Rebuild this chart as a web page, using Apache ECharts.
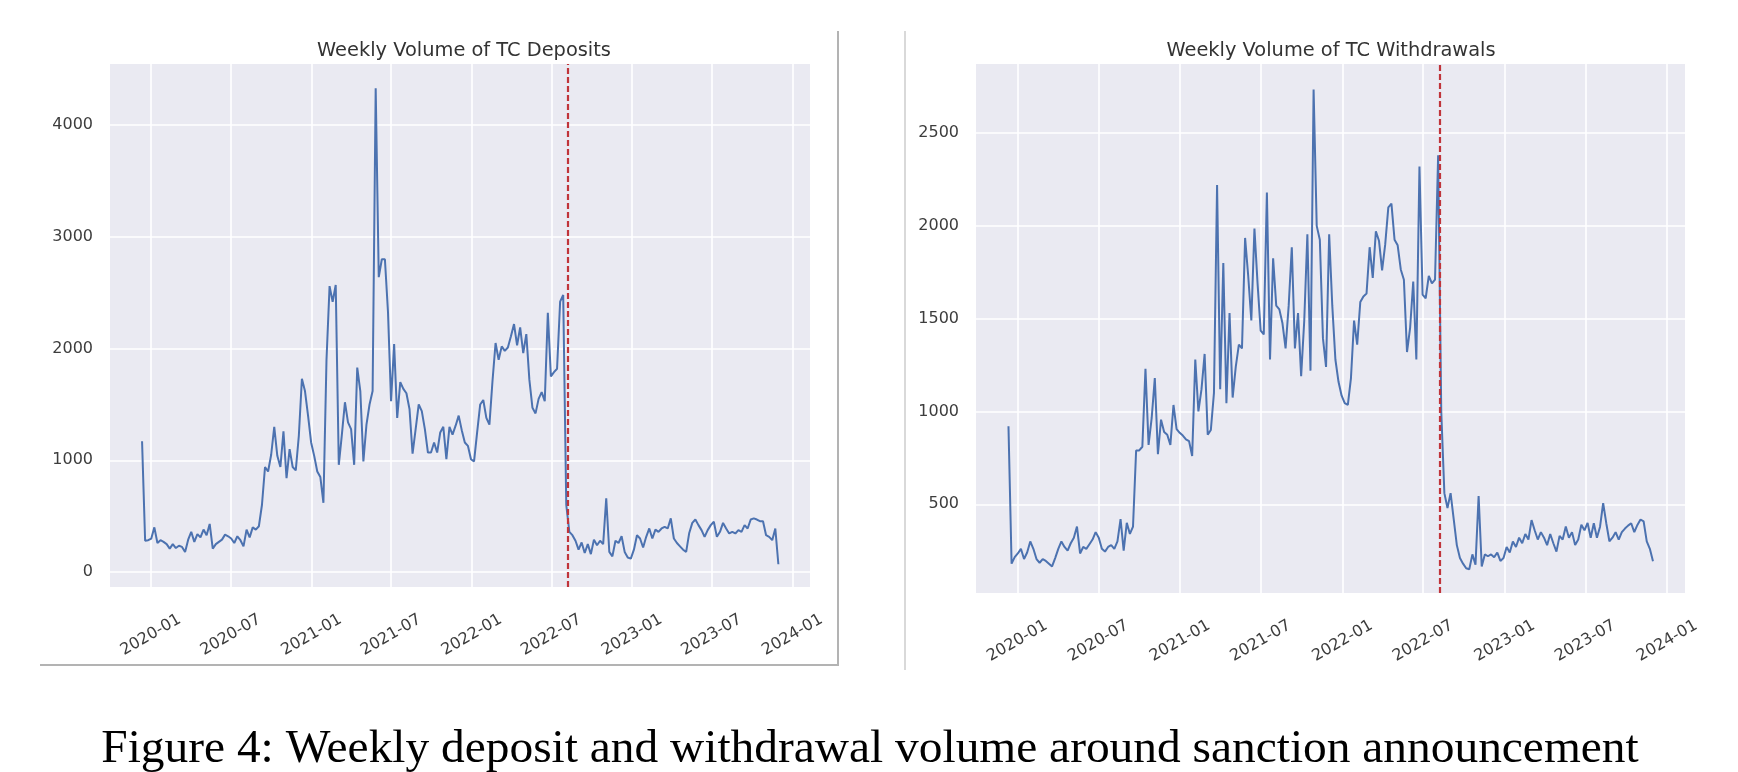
<!DOCTYPE html>
<html><head><meta charset="utf-8">
<script src="https://cdn.jsdelivr.net/npm/echarts@6/dist/echarts.min.js"></script>
<style>html,body{margin:0;padding:0;background:#fff}#c{width:1738px;height:772px}</style>
</head><body><div id="c"></div><script>
// ---- data ----
const firstWeek = '2019-12-12';
const deposits = [
1170,280,285,300,400,260,285,270,250,210,250,215,235,225,180,290,360,270,340,310,
380,330,430,210,250,270,290,335,320,300,260,320,285,230,380,310,400,380,410,600,
940,900,1050,1300,1040,940,1260,840,1100,940,910,1220,1730,1620,1400,1160,1040,900,850,620,
1900,2560,2420,2570,960,1230,1520,1340,1280,960,1830,1620,990,1320,1500,1620,4330,2640,2800,2800,
2330,1530,2040,1380,1700,1640,1600,1460,1060,1280,1500,1440,1280,1070,1070,1160,1070,1250,1300,1010,
1300,1230,1310,1400,1270,1160,1130,1010,990,1250,1500,1540,1380,1320,1710,2050,1900,2020,1980,2010,
2110,2220,2030,2190,1960,2130,1720,1470,1420,1550,1610,1530,2320,1750,1790,1820,2420,2480,600,360,
330,280,200,265,170,250,160,290,240,280,250,660,180,140,280,260,320,180,130,120,
200,330,300,220,315,390,300,380,360,390,405,390,480,300,260,230,200,180,350,440,
470,420,375,315,375,420,450,315,360,440,390,345,360,345,375,360,420,390,470,480,
470,455,455,330,315,285,390,70];
const withdrawals = [
920,180,215,235,260,205,240,300,260,205,185,205,195,180,165,210,260,300,270,250,
290,320,380,235,270,260,285,310,350,320,260,245,270,280,260,300,420,250,400,340,
380,790,790,810,1230,820,965,1180,770,956,890,875,820,1035,905,885,870,850,840,760,
1280,1000,1120,1310,875,900,1100,2220,1120,1800,1045,1530,1075,1240,1360,1340,1935,1730,1490,1985,
1690,1435,1415,2180,1280,1825,1570,1550,1475,1340,1570,1885,1340,1530,1190,1490,1955,1220,2735,2000,
1925,1395,1240,1955,1570,1280,1160,1085,1045,1035,1180,1490,1360,1590,1620,1635,1885,1720,1970,1920,
1760,1900,2100,2120,1925,1895,1765,1710,1320,1450,1700,1280,2320,1630,1610,1730,1690,1710,2380,1000,
560,480,560,420,280,210,180,155,150,230,175,545,165,230,220,230,215,240,195,210,
270,240,300,270,320,290,340,310,415,360,310,350,320,280,340,290,245,330,310,380,
320,350,280,310,390,360,400,320,398,320,379,506,398,301,320,350,310,350,369,385,
398,350,389,418,408,300,260,193];
const xTickLabels = ['2020-01','2020-07','2021-01','2021-07','2022-01','2022-07','2023-01','2023-07','2024-01'];
const depositTicks = [0,1000,2000,3000,4000];
const withdrawalTicks = [500,1000,1500,2000,2500];
const sanctionDate = '2022-08-08';
const panelTitles = ['Weekly Volume of TC Deposits','Weekly Volume of TC Withdrawals'];
const caption = 'Figure 4: Weekly deposit and withdrawal volume around sanction announcement';

// ---- build ----
const DAY = 86400000;
const utc = s => Date.parse(s + 'T00:00:00Z');
const t0 = utc(firstWeek);
const weekTimes = deposits.map((_, i) => t0 + i * 7 * DAY);
const tickTimes = xTickLabels.map(s => utc(s + '-01'));
const sanctionTime = utc(sanctionDate);
const xMin = utc('2019-09-30'), xMax = utc('2024-02-10');
const fmt = v => { let best = 0; tickTimes.forEach((t, k) => { if (Math.abs(t - v) < Math.abs(tickTimes[best] - v)) best = k; });
  return xTickLabels[best]; };

const TXT = '#3d3d3d', FONT = 'DejaVu Sans';
const gridLine = { show: true, lineStyle: { color: '#ffffff', width: 1.6 } };
function xAxis(gi) {
  return { type: 'value', gridIndex: gi, min: xMin, max: xMax, scale: true,
    axisLine: { show: false }, axisTick: { show: false, customValues: tickTimes },
    axisLabel: { customValues: tickTimes, formatter: fmt, rotate: 30, align: 'center', verticalAlign: 'middle',
      margin: 48, fontSize: 16, color: TXT, fontFamily: FONT, hideOverlap: false },
    splitLine: gridLine };
}
function yAxis(gi, ticks, mn, mx) {
  return { type: 'value', gridIndex: gi, min: mn, max: mx,
    axisLine: { show: false }, axisTick: { show: false, customValues: ticks },
    axisLabel: { customValues: ticks, formatter: v => String(v), fontSize: 16, color: TXT, fontFamily: FONT, margin: 17 },
    splitLine: gridLine };
}
function series(gi, vals) {
  return { type: 'line', xAxisIndex: gi, yAxisIndex: gi, data: weekTimes.map((t, i) => [t, vals[i]]),
    symbol: 'none', showSymbol: false, lineStyle: { color: '#4C72B0', width: 2 }, z: 2,
    markLine: { silent: true, symbol: 'none', label: { show: false }, z: 5,
      lineStyle: { color: '#C0343A', type: [6, 3], width: 2.2 }, data: [{ xAxis: sanctionTime }] } };
}
const titleStyle = { fontSize: 19.4, fontWeight: 'normal', color: '#333', fontFamily: FONT };
const chart = echarts.init(document.getElementById('c'));
chart.setOption({
  animation: false,
  backgroundColor: '#ffffff',
  title: [
    { text: panelTitles[0], left: 464, top: 41, textAlign: 'center', padding: 0, textStyle: titleStyle },
    { text: panelTitles[1], left: 1331, top: 41, textAlign: 'center', padding: 0, textStyle: titleStyle },
    { text: caption, left: 870, top: 726, textAlign: 'center', padding: 0,
      textStyle: { fontSize: 47.4, fontWeight: 'normal', color: '#000', fontFamily: 'Liberation Serif' } }
  ],
  grid: [
    { left: 110, right: 928, top: 64, bottom: 185, show: true, backgroundColor: '#EAEAF2', borderWidth: 0 },
    { left: 976, right: 53, top: 64, bottom: 179, show: true, backgroundColor: '#EAEAF2', borderWidth: 0 }
  ],
  xAxis: [xAxis(0), xAxis(1)],
  yAxis: [yAxis(0, depositTicks, -134, 4548), yAxis(1, withdrawalTicks, 22, 2872)],
  series: [series(0, deposits), series(1, withdrawals)],
  graphic: [
    { type: 'line', shape: { x1: 838, y1: 31, x2: 838, y2: 665 }, style: { stroke: '#b3b3b3', lineWidth: 2 } },
    { type: 'line', shape: { x1: 40, y1: 665, x2: 839, y2: 665 }, style: { stroke: '#b3b3b3', lineWidth: 2 } },
    { type: 'line', shape: { x1: 905, y1: 31, x2: 905, y2: 670 }, style: { stroke: '#cccccc', lineWidth: 1.5 } }
  ]
});
</script></body></html>
